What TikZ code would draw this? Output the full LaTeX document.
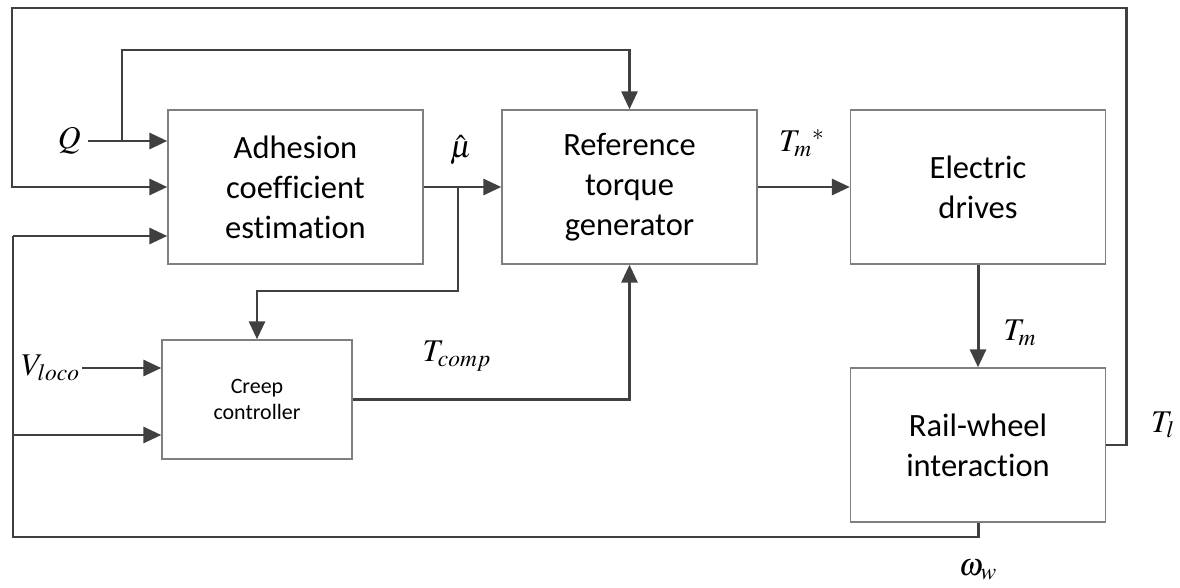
\documentclass[tikz,border=0pt]{standalone}
\usepackage{mathptmx}
\usepackage{fontspec}
\setmainfont{Carlito}[Ligatures=NoCommon]
\usetikzlibrary{arrows.meta}
\definecolor{linegray}{HTML}{404040}
\definecolor{boxgray}{HTML}{7F7F7F}
\newcommand{\mlabel}{\fontsize{18}{21}\selectfont}

\begin{document}
\begin{tikzpicture}[x=0.02cm,y=-0.02cm,>={Triangle[length=0.36cm,width=0.32cm]},
    every node/.style={font=\fontsize{18.5}{22.8}\selectfont},
    block/.style={draw=boxgray,line width=0.8pt,align=center,minimum width=5.1cm,minimum height=3.08cm,inner sep=0pt},
    smallblock/.style={block,minimum width=3.8cm,minimum height=2.38cm,font=\fontsize{12.5}{15.3}\selectfont},
    flow/.style={draw=linegray,line width=1.7pt,->},
    wire/.style={draw=linegray,line width=1.7pt},
    sig/.style={font=\mlabel,inner sep=1pt}]
                \useasboundingbox (0,0) rectangle (1180,588);

                \node[block] (adh) at (295.5,187) {Adhesion\\coefficient\\estimation};
                \node[block] (ref) at (629.5,187) {Reference\\torque\\generator};
                \node[block] (drv) at (978,187) {Electric\\drives};
                \node[block] (rw) at (978,445) {Rail-wheel\\interaction};
                \node[smallblock] (cc) at (257,399.5) {Creep\\controller};

                \node[sig,anchor=east,inner sep=4pt] (q) at (88,141) {$Q$};
                \node[sig,anchor=east] (v) at (82,368) {$V_{loco}$};
                \node[sig] (mu) at (461,150) {$\hat{\mu}$};
                \node[sig] (tc) at (457,356) {$T_{comp}$};
                \node[sig] (tms) at (802,143) {${T_m}^{*}$};
                \node[sig] (tm) at (1020,333) {$T_m$};
                \node[sig] (tl) at (1163,425) {$T_l$};
                \node[sig] (ww) at (978,570) {$\omega_w$};

                \coordinate (qb) at (122,141);
                \coordinate (qtop) at (122,50);
                \coordinate (tr) at (1126,8);
                \coordinate (tlc) at (12,8);
                \coordinate (lm) at (13,236);
                \coordinate (lc) at (13,435);
                \coordinate (lb) at (13,537);
                \coordinate (mb) at (458,187);
                \coordinate (mlow) at (458,291);

                % inputs of the estimator
                \draw[flow] (q.east) -- (q.east -| adh.west);
                \draw[flow] (qb) -- (qtop) -| (ref.north);
                \draw[flow] (rw.east) -| (tr) -- (tlc) |- (adh.west);
                \draw[flow] (lm) -- (lm -| adh.west);

                % wheel speed feedback
                \draw[wire] (rw.south) |- (lb) -- (lm);
                \draw[flow] (lc) -- (lc -| cc.west);
                \draw[flow] (v.east) -- (v.east -| cc.west);

                \draw[flow] (adh.east) -- (ref.west);
                \draw[flow] (mb) -- (mlow) -| (cc.north);
                \draw[flow] (cc.east) -| (ref.south);
                \draw[flow] (ref.east) -- (drv.west);
                \draw[flow] (drv.south) -- (rw.north);
            \end{tikzpicture}
\end{document}
